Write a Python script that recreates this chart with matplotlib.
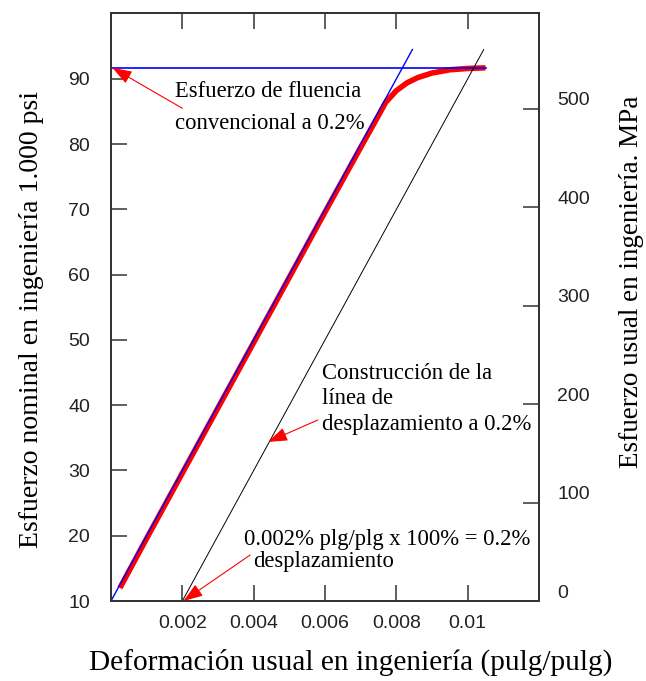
import matplotlib
matplotlib.use('Agg')
import matplotlib.pyplot as plt
import matplotlib.transforms as mtransforms

# elastic line, 0.2% offset line and yield level
elastic_x = [0.0, 0.00845]
elastic_y = [10.0, 94.5]
offset_x = [0.002, 0.01045]
offset_y = [10.0, 94.5]
yield_x = [0.0, 0.0105]
yield_y = [91.7, 91.7]

# measured stress-strain curve (red)
curve_x = [0.00025, 0.001, 0.002, 0.003, 0.004, 0.005, 0.006, 0.007, 0.0075,
           0.0077, 0.008, 0.0083, 0.0086, 0.009, 0.0095, 0.01, 0.0105]
curve_y = [12.0, 19.6, 29.6, 39.6, 49.6, 59.6, 69.6, 79.5, 84.4,
           86.4, 88.2, 89.4, 90.2, 90.9, 91.4, 91.6, 91.7]

x_ticks = [0.002, 0.004, 0.006, 0.008, 0.01]
x_labels = ['0.002', '0.004', '0.006', '0.008', '0.01']
y_ticks = [10, 20, 30, 40, 50, 60, 70, 80, 90]
mpa_ticks = [0, 100, 200, 300, 400, 500]

serif = ['Liberation Serif', 'DejaVu Serif']
sans = ['Liberation Sans', 'DejaVu Sans']

fig = plt.figure(figsize=(6.46, 6.81), dpi=100)
ax = fig.add_axes([111 / 646, 1 - 601 / 681, 428 / 646, 588 / 681])

ax.plot(curve_x, curve_y, color='#ff0000', lw=4.0, solid_capstyle='butt', zorder=2)
ax.plot(elastic_x, elastic_y, color='#0000ff', lw=1.0, zorder=3)
ax.plot(yield_x, yield_y, color='#0000ff', lw=1.2, zorder=3)
ax.plot(offset_x, offset_y, color='black', lw=0.7, zorder=3)

ax.set_xlim(0, 0.012)
ax.set_ylim(10, 100.1)
ax.set_xticks(x_ticks)
ax.set_xticklabels(x_labels)
ax.set_yticks(y_ticks)
ax.set_yticklabels([str(v) for v in y_ticks])

ax.tick_params(axis='both', direction='in', length=11.5, width=1.1, colors='#333333',
               labelcolor='#222222', labelsize=14)
ax.tick_params(axis='x', top=True, pad=10)
ax.tick_params(axis='y', pad=15)
for lab in ax.get_xticklabels() + ax.get_yticklabels():
    lab.set_family(sans)
for sp in ax.spines.values():
    sp.set_linewidth(1.4)
    sp.set_color('#333333')

ax2 = ax.twinx()
ax2.set_ylim(0, 597)
ax2.set_yticks(mpa_ticks)
ax2.set_yticklabels([str(v) for v in mpa_ticks])
ax2.tick_params(axis='y', direction='in', length=11.5, width=1.1, colors='#333333',
                labelcolor='#222222', labelsize=14, pad=13)
shift = mtransforms.ScaledTranslation(0, 7 / 72, fig.dpi_scale_trans)
for lab in ax2.get_yticklabels():
    lab.set_family(sans)
    lab.set_transform(lab.get_transform() + shift)
for sp in ax2.spines.values():
    sp.set_linewidth(1.4)
    sp.set_color('#333333')

# axis titles
fig.text(351 / 646, 1 - 662 / 681, 'Deformación usual en ingeniería (pulg/pulg)',
         ha='center', va='center', fontsize=21.2, family=serif)
fig.text(32 / 646, 1 - 319 / 681, 'Esfuerzo nominal en ingeniería 1.000 psi',
         ha='center', va='center', rotation=90, fontsize=20, family=serif)
fig.text(632 / 646, 1 - 282 / 681, 'Esfuerzo usual en ingeniería. MPa',
         ha='center', va='center', rotation=90, fontsize=19.5, family=serif)

arrow = dict(arrowstyle='-|>,head_length=0.8,head_width=0.28', color='#ff0000', lw=0.8,
             mutation_scale=15, shrinkA=0, shrinkB=0)

ax.text(0.0018, 85.6, 'Esfuerzo de fluencia\nconvencional a 0.2%', ha='left', va='center',
        fontsize=16.3, family=serif, linespacing=1.65, zorder=5)
ax.annotate('', xy=(0.00004, 91.7), xytext=(0.002, 85.5), arrowprops=arrow, zorder=5,
            annotation_clip=False)

ax.text(0.00592, 40.96, 'Construcción de la\nlínea de\ndesplazamiento a 0.2%', ha='left',
        va='center', fontsize=16.3, family=serif, linespacing=1.3, zorder=5)
ax.annotate('', xy=(0.0044, 34.37), xytext=(0.0058, 37.74), arrowprops=arrow, zorder=5)

ax.text(0.00373, 19.5, '0.002% plg/plg x 100% = 0.2%', ha='left', va='center',
        fontsize=16.3, family=serif, zorder=5)
ax.text(0.00399, 15.98, 'desplazamiento', ha='left', va='center',
        fontsize=16.3, family=serif, zorder=5)
ax.annotate('', xy=(0.00203, 10.0), xytext=(0.0039, 17.05), arrowprops=arrow, zorder=5,
            annotation_clip=False)

fig.savefig('out.png', dpi=100)
